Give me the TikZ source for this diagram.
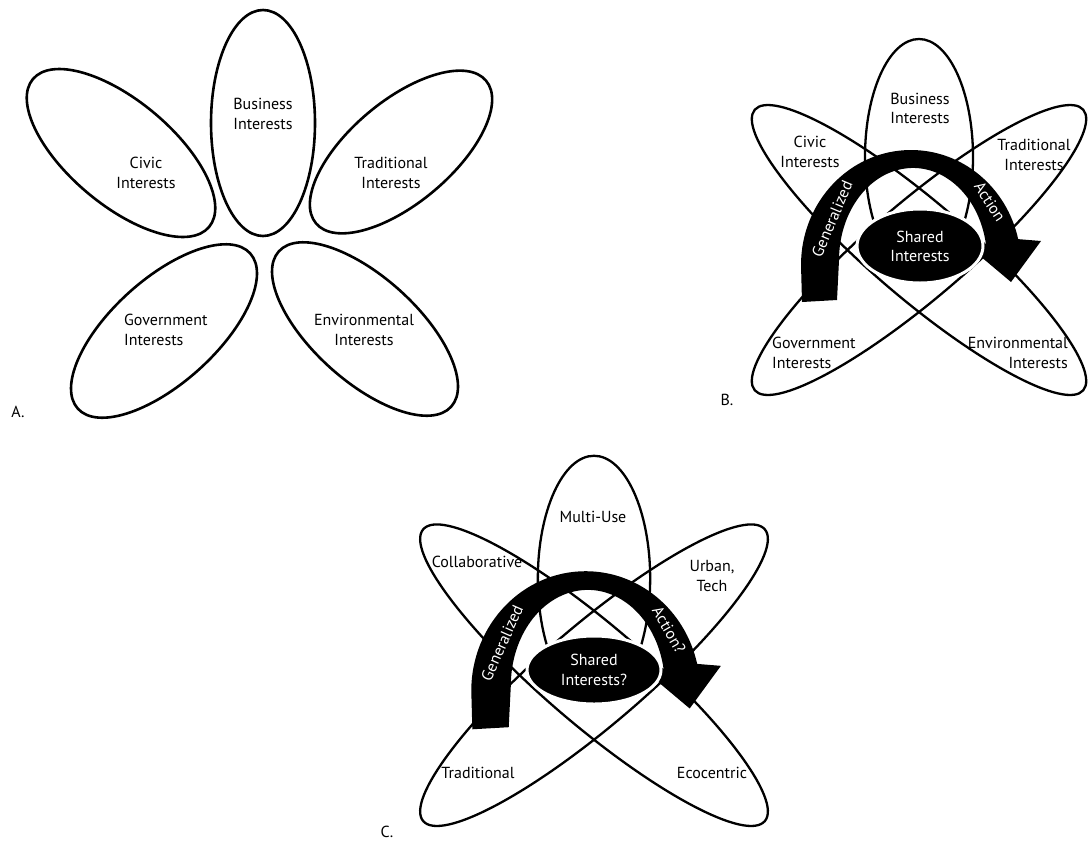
\documentclass[tikz,border=0pt]{standalone}
\usepackage{fontspec}
\setmainfont{PT Sans}
\tikzset{
  petal/.style={draw, line width=2.6pt},
  orbit/.style={draw, line width=2.3pt},
  lbl/.style={font=\fontsize{16}{19.5}\selectfont, align=center, inner sep=0pt},
  arrowtxt/.style={lbl, text=white},
  sharedblob/.style={fill=black, draw=white, line width=3pt},
}
% orbits and curved arrow of panels B and C, drawn around (0,0)
\newcommand{\atomshape}{%
  \draw[orbit] (0,88) ellipse (54 and 118);
  \draw[orbit, shift={(0,-5)}, rotate=-40.5] (0,0) ellipse (216 and 48);
  \draw[orbit, shift={(0,-5)}, rotate=40.5] (0,0) ellipse (216 and 48);
  \fill (-117,-57) -- (-118,-20) arc[start angle=180, end angle=13, x radius=110, y radius=115]
    -- (122,4) -- (92,-37) -- (48,0)
    -- (66.9,1) arc[start angle=10, end angle=180, x radius=74, y radius=92]
    -- (-82,-55) -- cycle;
}

\begin{document}
\begin{tikzpicture}[x=1pt,y=1pt]
    \useasboundingbox (0,0) rectangle (1089,-844);

    % A. five separate petals
    \draw[petal, shift={(263,-123)}, rotate=90] (0,0) ellipse (113 and 52);
    \draw[petal, shift={(121,-153)}, rotate=-40] (0,0) ellipse (115 and 52);
    \draw[petal, shift={(401,-152)}, rotate=40] (0,0) ellipse (111 and 51);
    \draw[petal, shift={(164,-331)}, rotate=42] (0,0) ellipse (116 and 52);
    \draw[petal, shift={(365,-329)}, rotate=-42] (0,0) ellipse (116 and 52);
    \node[lbl] (busA) at (263,-114) {Business\\Interests};
    \node[lbl] (civA) at (146,-173) {Civic\\Interests};
    \node[lbl] (traA) at (391,-173) {Traditional\\Interests};
    \node[lbl, anchor=west, align=left] (govA) at (124,-330) {Government\\Interests};
    \node[lbl] (envA) at (364,-330) {Environmental\\Interests};
    \node[lbl] (tagA) at (18,-412) {A.};

    % B. overlapping orbits
    \begin{scope}[shift={(919,-245)}]
        \atomshape
        \draw[sharedblob] (1,-1) ellipse (63 and 37);
        \node[lbl, text=white] (shB) at (1,-1.5) {Shared\\Interests};
        \node[arrowtxt, rotate=67] (genB) at (-87,26) {Generalized};
        \node[arrowtxt, rotate=-57] (actB) at (71,43) {Action};
        \node[lbl] (busB) at (1,136.5) {Business\\Interests};
        \node[lbl] (civB) at (-109,93) {Civic\\Interests};
        \node[lbl] (traB) at (115,90) {Traditional\\Interests};
        \node[lbl, anchor=west, align=left] (govB) at (-147,-108) {Government\\Interests};
        \node[lbl, anchor=east, align=right] (envB) at (149,-108) {Environmental\\Interests};
    \end{scope}
    \node[lbl] (tagB) at (727,-400) {B.};

    % C. same orbits, other groups
    \begin{scope}[shift={(594,-670)}]
        \begin{scope}[scale=1.04]
            \atomshape
        \end{scope}
        \draw[sharedblob] (0,0) ellipse (67 and 34);
        \node[lbl, text=white] (shC) at (0,0) {Shared\\Interests?};
        \node[arrowtxt, rotate=66] (genC) at (-92,27) {Generalized};
        \node[arrowtxt, rotate=-60] (actC) at (75,40) {Action?};
        \node[lbl] (mulC) at (-1,153) {Multi-Use};
        \node[lbl] (colC) at (-117,108) {Collaborative};
        \node[lbl] (urbC) at (118,94) {Urban,\\Tech};
        \node[lbl] (traC) at (-116,-103) {Traditional};
        \node[lbl] (ecoC) at (118,-103) {Ecocentric};
    \end{scope}
    \node[lbl] (tagC) at (387,-832) {C.};
\end{tikzpicture}
\end{document}
